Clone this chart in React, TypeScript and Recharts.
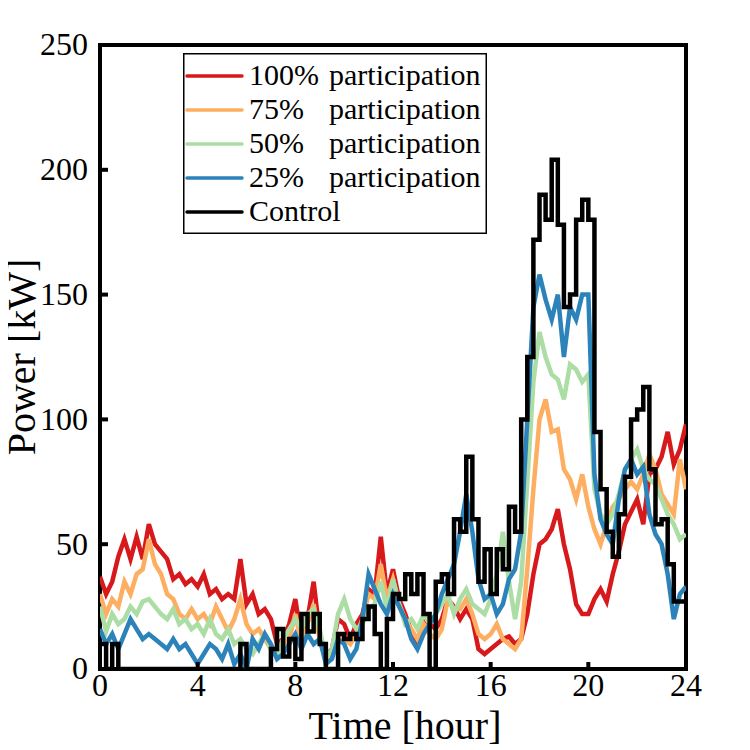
import React from "react";
import { LineChart, Line, XAxis, YAxis, ReferenceArea } from "recharts";

const STEP_HOURS = 0.25;

const P100 = [
  37, 30, 35, 45, 52, 44, 53, 44, 58, 50, 47, 44, 36, 38, 34, 36,
  33, 38, 30, 32, 28, 30, 28, 44, 26, 30, 22, 24, 20, 10, 12, 18,
  28, 12, 20, 35, 14, 5, 8, 20, 18, 12, 18, 22, 32, 30, 53, 30,
  40, 28, 22, 15, 10, 20, 18, 16, 20, 28, 25, 20, 24, 20, 8, 6,
  8, 10, 12, 13, 10, 12, 22, 38, 50, 52, 56, 64, 50, 40, 26, 22,
  22, 28, 32, 27, 38, 47, 58, 63, 68, 58, 78, 80, 85, 95, 82, 88,
  98,
];

const P75 = [
  30, 22, 28, 25, 35, 30, 38, 40, 52, 42, 38, 30, 28, 22, 20, 24,
  20, 22, 18, 25, 20, 15, 20, 28, 18, 14, 16, 12, 8, 6, 10, 12,
  22, 10, 18, 26, 12, 3, 6, 14, 12, 10, 14, 20, 30, 28, 42, 28,
  36, 26, 20, 16, 12, 18, 14, 12, 16, 28, 24, 24, 28, 22, 14, 12,
  14, 18, 12, 10, 8, 12, 40, 72, 100, 108, 95, 96, 80, 76, 68, 78,
  65, 56, 50, 58, 65, 68, 72, 75, 72, 78, 86, 80, 70, 66, 62, 84,
  72,
];

const P50 = [
  25, 15, 22, 18, 20, 25, 22, 27, 28, 25, 22, 20, 24, 18, 20, 16,
  18, 14, 20, 14, 12, 16, 10, 12, 8, 6, 10, 14, 8, 5, 12, 16,
  20, 16, 22, 24, 16, 4, 8, 22, 28, 20, 16, 18, 24, 26, 35, 24,
  36, 26, 18, 20, 16, 22, 18, 22, 26, 30, 22, 28, 32, 26, 24, 22,
  28, 38, 55, 35, 20, 35, 75, 115, 135, 125, 118, 116, 108, 122, 120, 115,
  118, 72, 62, 58, 62, 70, 80, 84, 88, 80, 76, 74, 68, 62, 58, 52,
  54,
];

const P25 = [
  16, 10, 14, 8, 14, 20, 16, 12, 14, 12, 10, 8, 12, 8, 10, 6,
  2, 6, 10, 8, 4, 10, 2, 6, 0, 12, 8, 14, 10, 4, 6, 10,
  14, 8, 14, 10, 12, 2, 4, 12, 10, 4, 8, 20, 38, 32, 26, 22,
  30, 25, 20, 12, 8, 14, 18, 22, 30, 36, 42, 55, 70, 55, 36, 28,
  30, 22, 26, 36, 40, 55, 100, 145, 158, 148, 140, 150, 125, 145, 140, 150,
  150, 78, 60, 54, 50, 68, 80, 84, 78, 81, 62, 54, 50, 38, 20, 30,
  33,
];

const CONTROL = [
  10, 0, 10, 0, 0, 0, 0, 0, 0, 0, 0, 0, 0, 0, 0, 0,
  0, 0, 0, 0, 0, 0, 0, 10, 0, 0, 0, 0, 8, 16, 5, 12,
  4, 22, 15, 22, 10, 0, 0, 14, 12, 14, 12, 20, 25, 14, 0, 20,
  30, 28, 38, 30, 38, 22, 0, 35, 38, 30, 60, 55, 85, 60, 35, 48,
  30, 48, 40, 65, 55, 100, 125, 172, 190, 180, 204, 178, 145, 150, 180, 188,
  180, 95, 72, 55, 45, 62, 77, 100, 104, 113, 80, 58, 60, 42, 27, 27,
  27,
];

const X_TICKS = [0, 4, 8, 12, 16, 20, 24];
const Y_TICKS = [0, 50, 100, 150, 200, 250];

const SERIES = [
  { key: "p100", label: "100%", color: "#d7191c" },
  { key: "p75", label: "75%", color: "#fdae61" },
  { key: "p50", label: "50%", color: "#abdda4" },
  { key: "p25", label: "25%", color: "#2b83ba" },
  { key: "control", label: "Control", color: "#000000" },
];

const data = P100.map((v, i) => ({
  t: i * STEP_HOURS,
  p100: v,
  p75: P75[i],
  p50: P50[i],
  p25: P25[i],
  control: CONTROL[i],
}));

const FONT = '"Liberation Serif", "Times New Roman", Times, serif';
const textStyle = { fontFamily: FONT };

const renderYTick = (props: any) => {
  const { y, payload } = props;
  const ax = 92;
  return (
    <g key={`y-${payload.value}`}>
      <line x1={ax} x2={ax + 8} y1={y} y2={y} stroke="#000" strokeWidth={4} />
      <text x={ax - 12} y={y + 3} textAnchor="end" dominantBaseline="middle" style={textStyle} fontSize={32} fill="#000">
        {payload.value}
      </text>
    </g>
  );
};

const renderXTick = (props: any) => {
  const { x, payload } = props;
  const ay = 661;
  return (
    <g key={`x-${payload.value}`}>
      <line x1={x} x2={x} y1={ay} y2={ay - 7} stroke="#000" strokeWidth={4} />
      <text x={x} y={ay + 20} textAnchor="middle" dominantBaseline="middle" style={textStyle} fontSize={32} fill="#000">
        {payload.value}
      </text>
    </g>
  );
};

const LegendBox = () => (
  <svg width={304} height={181} style={{ display: "block" }}>
    <rect x={0.75} y={0.75} width={302.5} height={179.5} fill="#fff" stroke="#000" strokeWidth={1.5} />
    {SERIES.map((s, i) => {
      const cy = 23 + i * 34;
      return (
        <g key={s.key}>
          <line x1={4} x2={59} y1={cy} y2={cy} stroke={s.color} strokeWidth={3.5} strokeLinecap="round" />
          <text x={66} y={cy + 2} dominantBaseline="middle" style={textStyle} fontSize={30} fill="#000">
            {s.label}
          </text>
          {s.key !== "control" && (
            <text x={146} y={cy + 2} dominantBaseline="middle" style={textStyle} fontSize={30} fill="#000">
              participation
            </text>
          )}
        </g>
      );
    })}
  </svg>
);

export default function App() {
  return (
    <div style={{ position: "relative", width: 742, height: 742 }}>
      <LineChart
        width={742}
        height={742}
        data={data}
        margin={{ top: 37, left: 32, right: 64, bottom: 51 }}
      >
        <XAxis
          dataKey="t"
          type="number"
          domain={[0, 24]}
          ticks={X_TICKS}
          height={30}
          tickLine={false}
          axisLine={false}
          tick={renderXTick}
          interval={0}
          allowDataOverflow
        />
        <YAxis
          type="number"
          domain={[0, 250]}
          ticks={Y_TICKS}
          width={60}
          tickLine={false}
          axisLine={false}
          tick={renderYTick}
          interval={0}
          allowDataOverflow
        />
        {SERIES.map((s) => (
          <Line
            key={s.key}
            dataKey={s.key}
            type={s.key === "control" ? "stepAfter" : "linear"}
            stroke={s.color}
            strokeWidth={4.5}
            dot={false}
            isAnimationActive={false}
          />
        ))}
        <ReferenceArea x1={0} x2={24} y1={0} y2={250} fill="none" stroke="#000" strokeWidth={4} />
      </LineChart>
      <div style={{ position: "absolute", left: 175, top: 45 }}>
        <LegendBox />
      </div>
      <div
        style={{
          position: "absolute",
          left: 0,
          top: 698,
          width: 794,
          textAlign: "center",
          fontFamily: FONT,
          fontSize: 40,
          lineHeight: "40px",
        }}
      >
        Time [hour]
      </div>
      <div
        style={{
          position: "absolute",
          left: 14,
          top: 349,
          transform: "translate(-50%, -50%) rotate(-90deg)",
          fontFamily: FONT,
          fontSize: 40,
          lineHeight: "40px",
          whiteSpace: "nowrap",
        }}
      >
        Power [kW]
      </div>
    </div>
  );
}
